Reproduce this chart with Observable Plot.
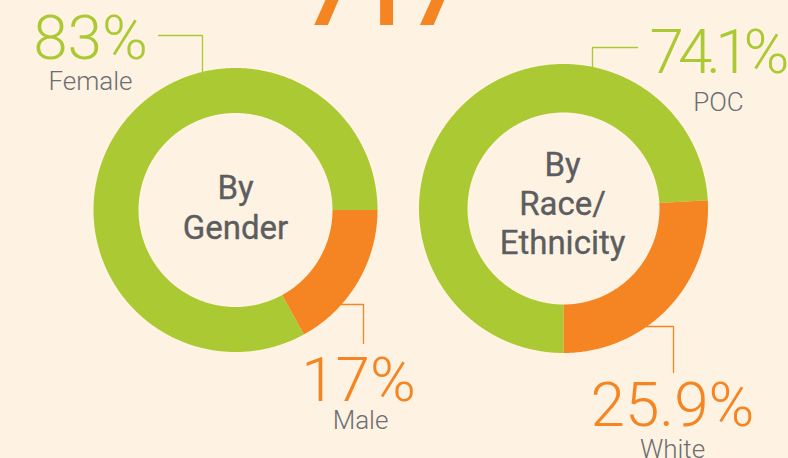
<!DOCTYPE html>
<html>
<head>
<meta charset="utf-8">
<script src="https://cdn.jsdelivr.net/npm/d3@7"></script>
<script src="https://cdn.jsdelivr.net/npm/@observablehq/plot@0.6"></script>
<style>
  html, body { margin: 0; padding: 0; background: #fef3e2; }
  #chart { width: 788px; height: 458px; overflow: hidden; }
</style>
</head>
<body>
<div id="chart"></div>
<script>
// ---- data ----
const genderLabels = ["Female", "Male"];
const genderValues = [83, 17];
const raceLabels = ["POC", "White"];
const raceValues = [74.1, 25.9];
const genderTitle = ["By", "Gender"];
const raceTitle = ["By", "Race/", "Ethnicity"];
const topText = "717";
const palette = ["#abc933", "#f58522"];

// ---- layout ----
const donuts = [
  { labels: genderLabels, values: genderValues, cx: 235, cy: 209.5, r0: 97, r1: 142,
    startDeg: 90 - 360 * genderValues[0] / d3.sum(genderValues) },
  { labels: raceLabels, values: raceValues, cx: 563, cy: 208, r0: 96, r1: 144.5,
    startDeg: -180 }
];

// build slice outlines from the values
const slices = [];
donuts.forEach((d, di) => {
  const s = d.startDeg * Math.PI / 180;
  const arcs = d3.pie().sort(null).startAngle(s).endAngle(s + 2 * Math.PI)(d.values);
  arcs.forEach((a, i) => {
    const id = di + "-" + i;
    const n = Math.max(4, Math.ceil((a.endAngle - a.startAngle) / (Math.PI / 360)));
    const pts = [];
    for (let k = 0; k <= n; k++) {
      const t = a.startAngle + (a.endAngle - a.startAngle) * k / n;
      pts.push({ id, color: palette[i], x: d.cx + d.r1 * Math.sin(t), y: d.cy - d.r1 * Math.cos(t) });
    }
    for (let k = n; k >= 0; k--) {
      const t = a.startAngle + (a.endAngle - a.startAngle) * k / n;
      pts.push({ id, color: palette[i], x: d.cx + d.r0 * Math.sin(t), y: d.cy - d.r0 * Math.cos(t) });
    }
    slices.push(...pts);
  });
});

const pct = v => (Number.isInteger(v) ? v : v.toFixed(1)) + "%";

const numberLabels = [
  { text: pct(genderValues[0]), x: 90, y: 58, color: palette[0] },
  { text: pct(genderValues[1]), x: 358, y: 400, color: palette[1] },
  { text: pct(raceValues[0]), x: 716, y: 72, color: palette[0] },
  { text: pct(raceValues[1]), x: 672, y: 425, color: palette[1] }
];
const nameLabels = [
  { text: genderLabels[0], x: 90, y: 89 },
  { text: genderLabels[1], x: 360, y: 428 },
  { text: raceLabels[0], x: 718, y: 110 },
  { text: raceLabels[1], x: 672, y: 457 }
];
const titleLabels = [
  ...genderTitle.map((t, i) => ({ text: t, x: 235, y: 198 + i * 40 })),
  ...raceTitle.map((t, i) => ({ text: t, x: 562, y: 175 + i * 39 }))
];
const leaders = [
  { id: "f", color: palette[0], pts: [[158, 35], [202, 35], [202, 72]] },
  { id: "m", color: palette[1], pts: [[341, 304], [363, 304], [363, 343]] },
  { id: "p", color: palette[0], pts: [[637, 47], [592, 47], [592, 67]] },
  { id: "w", color: palette[1], pts: [[646, 326], [673, 326], [673, 372]] }
].flatMap(l => l.pts.map(p => ({ id: l.id, color: l.color, x: p[0], y: p[1] })));

const plot = Plot.plot({
  width: 788,
  height: 458,
  margin: 0,
  x: { domain: [0, 788], range: [0, 788], axis: null },
  y: { domain: [0, 458], range: [0, 458], axis: null },
  style: { background: "#fef3e2", fontFamily: "Roboto, 'Open Sans', sans-serif", overflow: "hidden" },
  marks: [
    Plot.text([topText], { x: 383, y: 24, text: d => d, fontSize: 92, fontWeight: 700, fill: palette[1],
      textAnchor: "middle", lineAnchor: "bottom" }),
    Plot.line(slices, { x: "x", y: "y", z: "id", fill: "color", stroke: "none", curve: "linear" }),
    Plot.line(leaders, { x: "x", y: "y", z: "id", stroke: "color", strokeWidth: 1.3 }),
    Plot.text(numberLabels, { x: "x", y: "y", text: "text", fill: "color", fontSize: 62, fontWeight: 300,
      textAnchor: "middle", lineAnchor: "bottom" }),
    Plot.text(nameLabels, { x: "x", y: "y", text: "text", fill: "#6d6e71", fontSize: 26, fontWeight: 300,
      textAnchor: "middle", lineAnchor: "bottom" }),
    Plot.text(titleLabels, { x: "x", y: "y", text: "text", fill: "#5c5d60", fontSize: 33, fontWeight: 400,
      stroke: "#5c5d60", strokeWidth: 0.35, textAnchor: "middle", lineAnchor: "bottom" })
  ]
});

plot.querySelectorAll("text").forEach(t => {
  if (t.textContent === pct(raceValues[0])) t.style.letterSpacing = "-6px";
});
document.getElementById("chart").appendChild(plot);
</script>
</body>
</html>
